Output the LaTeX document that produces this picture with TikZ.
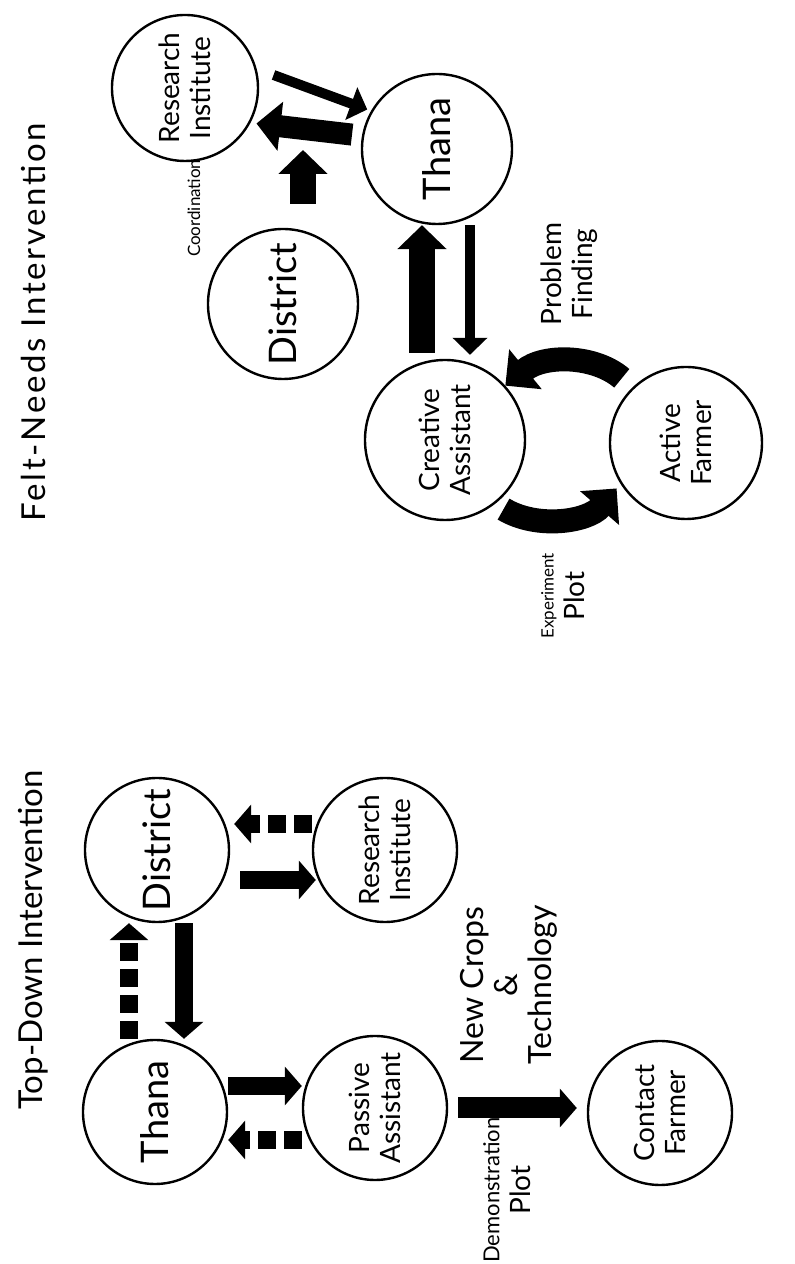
\documentclass[tikz,border=0pt]{standalone}
\usepackage{fontspec}
\setmainfont{Lato}
\usetikzlibrary{arrows.meta,calc}
\tikzset{
unit/.style={circle,draw,line width=2.4pt,minimum size=144pt,inner sep=0pt,align=center,font=\fontsize{38}{40}\selectfont},
unittwo/.style={unit,font=\fontsize{28}{31}\selectfont},
solidarrow/.style={line width=18pt,-{Triangle[length=17pt,width=38pt]}},
dotarrow/.style={solidarrow,dash pattern=on 18pt off 8pt},
thinarrow/.style={line width=10pt,-{Triangle[length=17pt,width=34pt]}},
boldarrow/.style={line width=26pt,-{Triangle[length=24pt,width=48pt]}},
ringarrow/.style={line width=24pt,-{Triangle[length=26pt,width=50pt]}},
heading/.style={font=\fontsize{33}{36}\selectfont},
tag/.style={font=\fontsize{28}{31}\selectfont,align=center},
smalltag/.style={font=\fontsize{17}{19}\selectfont}
}
\begin{document}
\begin{tikzpicture}[rotate=90,transform shape,x=1pt,y=1pt]
\useasboundingbox (0,0) rectangle (1264,795);
% top-down side
\node[heading] (tdTitle) at (324,762) {Top-Down Intervention};
\node[unit] (tdThana) at (152,640) {Thana};
\node[unit] (tdDistrict) at (414,638) {District};
\node[unittwo] (tdPassive) at (156,420) {Passive\\Assistant};
\node[unittwo] (tdResearch) at (414,410) {Research\\Institute};
\node[unittwo] (tdContact) at (151,135) {Contact\\Farmer};
\draw[dotarrow] ($(tdThana.east)+(0,26)$) -- ($(tdDistrict.west)+(0,28)$);
\draw[solidarrow] ($(tdDistrict.west)+(0,-27)$) -- ($(tdThana.east)+(0,-29)$);
\draw[solidarrow] ($(tdDistrict.south)+(-30,-10)$) -- ($(tdResearch.north)+(-30,-4)$);
\draw[dotarrow] ($(tdResearch.north)+(26,0)$) -- ($(tdDistrict.south)+(26,-4)$);
\draw[solidarrow] ($(tdThana.south)+(26,0)$) -- ($(tdPassive.north)+(22,0)$);
\draw[dotarrow] ($(tdPassive.north)+(-32,0)$) -- ($(tdThana.south)+(-28,0)$);
\draw[solidarrow,line width=21pt] ($(tdPassive.south)+(0,-10)$) -- ($(tdContact.north)+(5,10)$);
\node[tag,font=\fontsize{32}{34}\selectfont] (cropLabel) at (279,286) {New Crops\\\&\\Technology};
\node[tag] (demoLabel) at (74,288) {{\fontsize{22}{24}\selectfont Demonstration}\\Plot};
% felt-needs side
\node[heading,font=\fontsize{33}{36}\selectfont\addfontfeatures{LetterSpace=8}] (fnTitle) at (942,762) {Felt-Needs Intervention};
\node[unittwo,minimum size=146pt] (fnResearch) at (1176,610) {Research\\Institute};
\node[unit,minimum size=150pt] (fnDistrict) at (960,512) {District};
\node[unit,minimum size=150pt] (fnThana) at (1115,358) {Thana};
\node[unittwo,minimum size=160pt] (fnCreative) at (824,350) {Creative\\Assistant};
\node[unittwo,minimum size=152pt] (fnActive) at (821,109) {Active\\Farmer};
\coordinate (coordTip) at (1114,492);
\draw[thinarrow,shorten <=18pt,shorten >=4pt] (fnResearch.-75) -- (fnThana.60);
\draw[boldarrow,line width=22pt,shorten <=10pt,shorten >=6pt] (fnThana.80) -- (fnResearch.-118);
\draw[boldarrow,shorten <=24pt] ($(fnDistrict.east)+(0,-20)$) -- (coordTip);
\node[smalltag,anchor=east] (coordLabel) at (1108,601) {Coordination};
\draw[boldarrow,shorten <=6pt] ($(fnCreative.east)+(0,23)$) -- ($(fnThana.west)+(0,15)$);
\draw[thinarrow,shorten >=4pt] ($(fnThana.west)+(0,-33)$) -- ($(fnCreative.east)+(0,-25)$);
\draw[ringarrow,shorten <=14pt] (fnActive.44) to[bend right=40] (fnCreative.-48);
\draw[ringarrow,shorten <=10pt,shorten >=6pt] (fnCreative.-142) to[bend right=40] (fnActive.122);
\node[tag] (findLabel) at (990,226) {Problem\\Finding};
\node[tag] (plotLabel) at (668,232) {{\fontsize{17}{19}\selectfont Experiment}\\Plot};
\end{tikzpicture}
\end{document}
